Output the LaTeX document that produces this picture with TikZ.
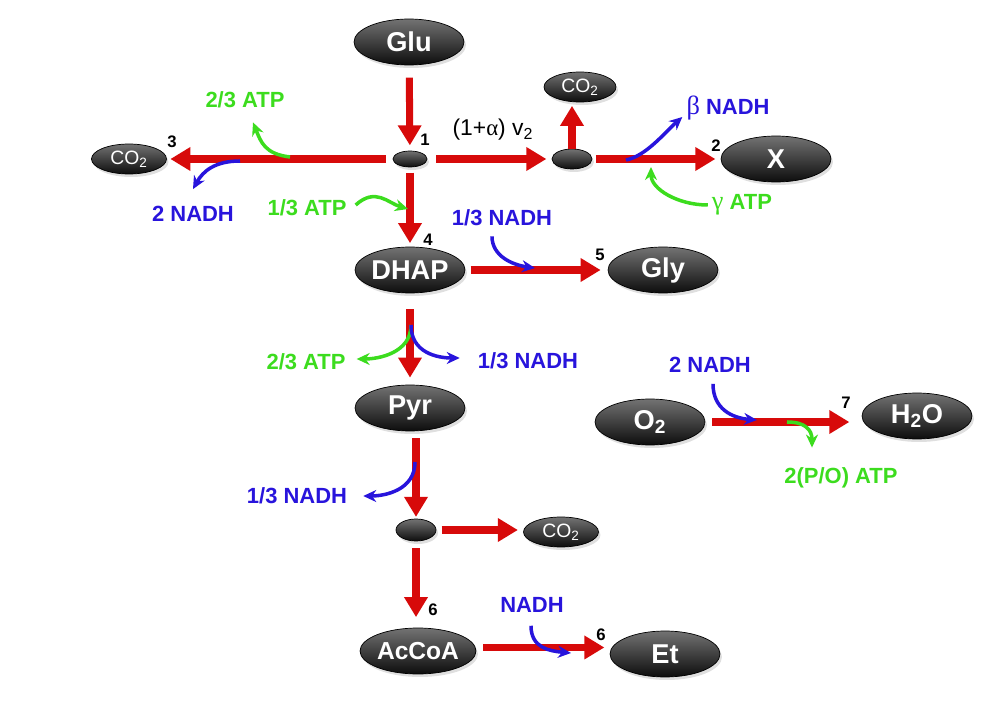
\documentclass[tikz,border=0pt]{standalone}
\usepackage{fontspec}
\setmainfont{Liberation Sans}
\newfontfamily\grk{Liberation Serif}
\usetikzlibrary{shapes.geometric,arrows.meta,shadows,positioning}

\definecolor{rxnred}{RGB}{215,10,10}
\definecolor{nadhblue}{RGB}{40,20,220}
\definecolor{atpgreen}{RGB}{60,220,30}

\tikzset{
	met/.style={ellipse, inner sep=0pt, minimum width=2.2cm, minimum height=0.92cm,
		top color=black!55, bottom color=black!95, draw=black, text=white,
		font=\bfseries\fontsize{15.5}{15.5}\selectfont,
		drop shadow={opacity=0.25, shadow xshift=0.04cm, shadow yshift=-0.06cm}},
	gas/.style={met, minimum width=1.5cm, minimum height=0.6cm, font=\fontsize{11}{11}\selectfont},
	dot/.style={met, minimum width=0.8cm, minimum height=0.4cm},
	rxn/.style={draw=rxnred, line width=4pt, -{Triangle[length=0.4cm,width=0.45cm]}},
	atp/.style={draw=atpgreen, line width=2pt, -{Stealth[length=0.26cm,width=0.24cm]}},
	nadh/.style={atp, draw=nadhblue},
	num/.style={font=\bfseries\fontsize{9.5}{9.5}\selectfont},
	atplbl/.style={text=atpgreen, font=\bfseries\fontsize{12.5}{12.5}\selectfont},
	nadhlbl/.style={atplbl, text=nadhblue}
}

\begin{document}
\begin{tikzpicture}[x=0.02cm, y=-0.02cm]
	\useasboundingbox (0,0) rectangle (985,713);

	% metabolites
	\node[met]	(glu)	at (409,42)		{Glu};
	\node[dot, minimum width=0.68cm, minimum height=0.32cm]	(n1)	at (410,159)	{};
	\node[gas]	(co2a)	at (129,159)	{CO\textsubscript{2}};
	\node[dot]	(n2)	at (572,159)	{};
	\node[gas, minimum width=1.44cm]	(co2b)	at (580,87)		{CO\textsubscript{2}};
	\node[met]	(x)		at (776,159)	{X};
	\node[met]	(dhap)	at (410,270)	{DHAP};
	\node[met]	(gly)	at (663,270)	{Gly};
	\node[met]	(pyr)	at (410,408)	{Pyr};
	\node[met]	(o2)	at (650,422)	{O\textsubscript{2}};
	\node[met]	(h2o)	at (917,416)	{H\textsubscript{2}O};
	\node[dot, minimum height=0.44cm]	(n3)	at (416,530)	{};
	\node[gas]	(co2c)	at (561,532)	{CO\textsubscript{2}};
	\node[met, minimum width=2.16cm, font=\bfseries\fontsize{14}{14}\selectfont]	(accoa)	at (418,651)	{AcCoA};
	\node[met]	(et)	at (665,654)	{Et};

	% reactions
	\draw[rxn, shorten <=7pt, shorten >=3pt]	(glu) -- (n1);
	\draw[rxn, shorten <=4pt, shorten >=2pt]	(n1) -- (co2a);
	\draw[rxn, shorten <=5pt, shorten >=3pt]	(n1) -- (n2);
	\draw[rxn, shorten >=2pt]	(n2.north) -- (n2.north |- co2b.south);
	\draw[rxn, shorten <=2pt, shorten >=3pt]	(n2) -- (x);
	\draw[rxn, shorten <=3pt, shorten >=2pt]	(n1) -- (dhap);
	\draw[rxn, shorten <=3pt, shorten >=4pt]	(dhap) -- (gly);
	\draw[rxn, shorten <=9pt, shorten >=4pt]	(dhap) -- (pyr);
	\draw[rxn, shorten <=4pt, shorten >=1pt]	(n3 |- pyr.south) -- (n3);
	\draw[rxn, shorten <=3pt, shorten >=3pt]	(n3) -- (n3 -| co2c.west);
	\draw[rxn, shorten <=4pt, shorten >=6pt]	(n3) -- (n3 |- accoa.north);
	\draw[rxn, shorten <=4pt, shorten >=3pt]	([yshift=2]accoa.east) -- ([yshift=2]accoa.east -| et.west);
	\draw[rxn, shorten <=4pt, shorten >=7pt]	(o2) -- (o2 -| h2o.west);

	% numbers
	\node[num]	(k1)	at (425,140)	{1};
	\node[num]	(k3)	at (172,142)	{3};
	\node[num]	(k2)	at (716,146)	{2};
	\node[num]	(k4)	at (428,240)	{4};
	\node[num]	(k5)	at (600,255)	{5};
	\node[num]	(k6a)	at (433,610)	{6};
	\node[num]	(k6b)	at (601,635)	{6};
	\node[num]	(k7)	at (846,403)	{7};
	\node[font=\fontsize{13}{13}\selectfont]	(flux)	at (493,130)	{(1+{\grk α}) v\textsubscript{2}};

	% cofactor labels
	\node[atplbl]	(atpa)	at (245,100)	{2/3 ATP};
	\node[nadhlbl]	(nadha)	at (193,214)	{2 NADH};
	\node[atplbl]	(atpb)	at (307,208)	{1/3 ATP};
	\node[nadhlbl]	(nadhb)	at (502,218)	{1/3 NADH};
	\node[nadhlbl]	(beta)	at (728,108)	{{\grk\mdseries\fontsize{15}{15}\selectfont β} NADH};
	\node[atplbl]	(gamma)	at (742,205)	{{\grk\mdseries\fontsize{15}{15}\selectfont γ} ATP};
	\node[atplbl]	(atpc)	at (306,362)	{2/3 ATP};
	\node[nadhlbl]	(nadhc)	at (528,361)	{1/3 NADH};
	\node[nadhlbl]	(nadhd)	at (297,496)	{1/3 NADH};
	\node[nadhlbl]	(nadhe)	at (710,365)	{2 NADH};
	\node[atplbl]	(atpd)	at (841,478)	{2(P/O) ATP};
	\node[nadhlbl]	(nadhf)	at (532,605)	{NADH};

	% cofactor arrows
	\coordinate (p1)	at (290,157);
	\coordinate (p2)	at (240,161);
	\coordinate (p3)	at (408,209);
	\coordinate (p4)	at (535,268);
	\coordinate (p5)	at (626,160);
	\coordinate (p6)	at (651,167);
	\coordinate (p7)	at (411,325);
	\coordinate (p8)	at (415,462);
	\coordinate (p9)	at (757,420);
	\coordinate (p10)	at (787,422);
	\coordinate (p11)	at (571,653);

	\draw[atp]	(p1) .. controls +(-25,-3) and +(8,20) .. ([shift={(8,8)}]atpa.south);
	\draw[nadh]	(p2) .. controls +(-25,0) and +(10,-18) .. ([shift={(0,-11)}]nadha.north);
	\draw[atp]	([shift={(3,-3)}]atpb.east) .. controls +(20,-18) and +(-20,-6) .. (p3);
	\draw[nadh]	([shift={(-10,4)}]nadhb.south) .. controls +(0,20) and +(-22,-3) .. (p4);
	\draw[nadh]	(p5) .. controls +(20,-4) and +(-18,16) .. ([shift={(2,9)}]beta.west);
	\draw[atp]	([shift={(2,0)}]gamma.west) .. controls +(-30,0) and +(0,22) .. (p6);
	\draw[atp]	(p7) .. controls +(0,28) and +(22,0) .. ([shift={(5,-3)}]atpc.east);
	\draw[nadh]	(p7) .. controls +(0,28) and +(-22,0) .. ([shift={(-12,-3)}]nadhc.west);
	\draw[nadh]	(p8) .. controls +(0,28) and +(22,0) .. ([shift={(10,0)}]nadhd.east);
	\draw[nadh]	([shift={(3,5)}]nadhe.south) .. controls +(0,25) and +(-25,-2) .. (p9);
	\draw[atp]	(p10) .. controls +(18,0) and +(0,-18) .. ([shift={(-29,-14)}]atpd.north);
	\draw[nadh]	([shift={(-1,7)}]nadhf.south) .. controls +(0,22) and +(-22,-2) .. (p11);
\end{tikzpicture}
\end{document}
